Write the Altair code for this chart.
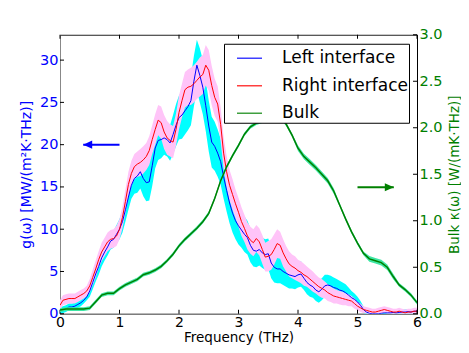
import altair as alt
import pandas as pd
import numpy as np

# ---------------- data ----------------
freq = [round(i * 0.05, 2) for i in range(121)]  # 0 .. 6 THz grid

left_g = [0.4, 0.5, 0.6, 0.8, 0.8, 0.9, 1.1, 1.3, 1.6, 2.0,
          2.7, 3.7, 4.7, 5.6, 6.6, 7.3, 7.9, 8.6, 8.8, 9.4,
          10.0, 10.9, 12.3, 13.8, 15.2, 16.0, 16.3, 16.8, 16.0, 15.5,
          15.6, 17.5, 19.6, 20.5, 20.6, 20.8, 20.6, 20.2, 21.2, 22.3,
          23.2, 23.5, 24.0, 24.5, 25.2, 27.5, 29.4, 28.2, 26.8, 24.6,
          22.2, 20.3, 19.8, 19.0, 18.0, 16.2, 14.6, 13.1, 11.9, 11.0,
          10.4, 9.9, 9.4, 9.0, 8.1, 7.5, 7.4, 7.6, 7.2, 7.0,
          7.1, 6.0, 5.5, 5.3, 5.3, 5.0, 4.8, 4.6, 4.5, 4.4,
          4.6, 4.7, 4.2, 3.7, 3.4, 3.2, 2.8, 2.6, 2.9, 3.3,
          3.4, 3.3, 3.1, 3.0, 2.8, 2.7, 2.5, 2.2, 1.9, 1.7,
          1.4, 1.0, 0.5, 0.2, 0.05, 0.0, 0.0, 0.0, 0.05, 0.1,
          0.1, 0.1, 0.15, 0.1, 0.15, 0.2, 0.2, 0.25, 0.2, 0.3,
          0.3]
left_err = [0.4] * 10 + \
    [0.7, 0.8, 0.9, 1.0, 1.0, 1.0, 1.0, 1.0, 1.0, 1.1,
     1.2, 1.3, 1.4, 1.5, 1.6, 1.8, 2.0, 2.0, 2.1, 2.2,
     2.2, 2.4, 2.4, 2.3, 2.2, 2.0, 2.0, 2.1, 2.3, 2.5,
     2.6, 2.8, 2.8, 2.8, 2.9, 3.0, 3.0, 3.2, 3.2, 3.0,
     3.0, 3.0, 2.9, 2.8, 2.7, 2.6, 2.5, 2.4, 2.3, 2.2,
     2.2, 2.1, 2.1, 2.0, 2.0, 1.9, 1.9, 1.9, 1.8, 1.8,
     1.8, 1.8, 1.8, 1.7, 1.7, 1.6, 1.6, 1.6, 1.5, 1.5,
     1.5, 1.5, 1.4, 1.4, 1.4, 1.3, 1.3, 1.3, 1.3, 1.3,
     1.2, 1.2, 1.2, 1.1, 1.1, 1.0, 1.0, 0.9, 0.8, 0.7,
     0.6, 0.5, 0.4, 0.3, 0.3, 0.3, 0.3, 0.3, 0.3, 0.3] + [0.3] * 11

right_g = [1.0, 1.6, 1.7, 1.8, 1.8, 1.8, 2.0, 2.2, 2.4, 2.7,
           3.3, 4.3, 5.3, 6.4, 7.3, 7.9, 8.5, 8.8, 8.9, 9.2,
           10.0, 11.4, 13.3, 15.3, 16.6, 17.4, 17.7, 17.9, 18.2, 18.6,
           19.3, 20.6, 21.8, 22.9, 22.6, 21.5, 20.8, 20.5, 20.3, 21.8,
           23.8, 25.2, 26.5, 26.8, 26.9, 27.2, 27.6, 28.0, 28.3, 29.4,
           28.8, 27.0, 25.6, 24.8, 22.4, 19.0, 16.8, 15.2, 14.1, 13.0,
           12.0, 10.9, 10.1, 9.2, 8.7, 8.4, 8.9, 8.5, 7.6, 6.7,
           6.8, 7.0, 7.6, 8.3, 8.1, 7.2, 6.5, 5.9, 5.6, 5.4,
           5.1, 4.9, 4.6, 4.4, 4.1, 3.8, 3.5, 3.2, 3.0, 2.8,
           2.5, 2.3, 2.1, 2.0, 1.9, 1.8, 1.7, 1.6, 1.5, 1.2,
           0.9, 0.7, 0.5, 0.4, 0.3, 0.2, 0.2, 0.3, 0.4, 0.5,
           0.4, 0.3, 0.2, 0.2, 0.3, 0.2, 0.1, 0.2, 0.2, 0.3,
           0.3]
right_err = [0.6] * 10 + \
    [0.8, 0.9, 1.0, 1.0, 1.1, 1.1, 1.1, 1.1, 1.1, 1.2,
     1.2, 1.3, 1.4, 1.5, 1.5, 1.5, 1.5, 1.6, 1.6, 1.6,
     1.7, 1.7, 1.8, 1.8, 1.9, 2.0, 2.0, 1.9, 1.9, 1.9,
     2.0, 2.0, 2.1, 2.1, 2.2, 2.2, 2.2, 2.3, 2.3, 2.4,
     2.4, 2.3, 2.2, 2.1, 2.0, 1.9, 1.9, 1.8, 1.8, 1.7,
     1.7, 1.7, 1.6, 1.6, 1.6, 1.6, 1.6, 1.6, 1.7, 1.7,
     1.8, 1.8, 1.8, 1.7, 1.6, 1.6, 1.5, 1.5, 1.4, 1.4,
     1.3, 1.3, 1.3, 1.2, 1.2, 1.2, 1.1, 1.1, 1.1, 1.0,
     1.0, 0.9, 0.9, 0.8, 0.8, 0.8, 0.7, 0.7, 0.6, 0.6,
     0.5, 0.5, 0.4, 0.4, 0.4, 0.4, 0.4, 0.4, 0.4, 0.4] + [0.4] * 11

freq_bulk = [round(i * 0.1, 1) for i in range(61)]
bulk_k = [0.04, 0.05, 0.05, 0.05, 0.05, 0.06, 0.13, 0.20, 0.22, 0.22,
          0.27, 0.31, 0.34, 0.37, 0.42, 0.44, 0.47, 0.51, 0.57, 0.64,
          0.73, 0.80, 0.86, 0.92, 0.99, 1.08, 1.24, 1.43, 1.58, 1.70,
          1.81, 1.93, 2.01, 2.05, 2.07, 2.10, 2.13, 2.12, 2.04, 1.92,
          1.78, 1.69, 1.63, 1.57, 1.50, 1.43, 1.32, 1.17, 1.02, 0.88,
          0.76, 0.65, 0.59, 0.57, 0.55, 0.50, 0.40, 0.31, 0.26, 0.20,
          0.12]
bulk_err = [0.02] * 40 + [0.03] * 7 + [0.02] * 5 + [0.03] * 5 + [0.02] * 4

series_names = ["Left interface", "Right interface", "Bulk"]
series_colors = ["#0000ff", "#ff0000", "#008000"]

x_ticks = [0, 1, 2, 3, 4, 5, 6]
left_ticks = [0, 5, 10, 15, 20, 25, 30]
right_ticks = [0.0, 0.5, 1.0, 1.5, 2.0, 2.5, 3.0]

# arrows: tip x, tail x, y
left_arrow = {"tip": [0.39], "tail": [1.0], "y": [20.0]}
right_arrow = {"tip": [5.61], "tail": [5.0], "y": [1.36]}

# ---------------- build tables ----------------
W, H = 357, 279
FONT = "DejaVu Sans"

fa = np.array(freq)
lg, le = np.array(left_g), np.array(left_err)
rg, re_ = np.array(right_g), np.array(right_err)
iface = pd.DataFrame({
    "f": fa,
    "left": lg, "left_lo": lg - le, "left_hi": lg + le,
    "right": rg, "right_lo": rg - re_, "right_hi": rg + re_,
})
iface["s_left"] = series_names[0]
iface["s_right"] = series_names[1]

bk, be = np.array(bulk_k), np.array(bulk_err)
bulk = pd.DataFrame({"f": freq_bulk, "k": bk, "lo": bk - be, "hi": bk + be})
bulk["s"] = series_names[2]


def xs():
    return alt.Scale(domain=[0, 6], nice=False)


def ls():
    return alt.Scale(domain=[0, 33], nice=False)


def rs():
    return alt.Scale(domain=[0, 3], nice=False)


cs = alt.Scale(domain=series_names, range=series_colors)

legend = alt.Legend(
    title=None, orient="none", legendX=164, legendY=9,
    symbolType="stroke", symbolSize=625, symbolStrokeWidth=1.5,
    symbolOpacity=0.75, labelFontSize=17, labelFont=FONT, labelColor="black",
    labelOffset=19, padding=1, symbolOffset=11, rowPadding=5.5,
    labelExpr="datum.label + '\u00a0\u00a0'",
    strokeColor="black", fillColor="white", cornerRadius=0, labelLimit=300,
)

X_axis = alt.Axis(title="Frequency (THz)", values=x_ticks, format="d",
                  ticks=False, grid=False, labelPadding=2, titlePadding=1,
                  labelFlush=False,
                  domainColor="#888888", labelFontSize=14, titleFontSize=13.5,
                  titleFontWeight="normal", labelColor="black", titleColor="black")

L_axis = alt.Axis(title="g(ω) [MW/(m²K·THz)]", values=left_ticks, format="d",
                  ticks=False, grid=False, labelPadding=2, titlePadding=6,
                  domainColor="#888888", labelColor="#0000ff", titleColor="#0000ff",
                  labelFontSize=14.5, titleFontSize=14, titleFontWeight="normal")

R_axis = alt.Axis(orient="right", title="Bulk κ(ω) [W/(mK·THz)]", values=right_ticks,
                  format=".1f", ticks=False, grid=False, labelPadding=2, titlePadding=5,
                  titleAngle=270, titleBaseline="top", domainColor="black",
                  labelColor="#008000", titleColor="#008000", labelFontSize=14.5,
                  titleFontSize=13.5, titleFontWeight="normal")


def X(field):
    return alt.X(field, scale=xs(), axis=X_axis)


base_i = alt.Chart(iface)

cyan = base_i.mark_area(color="#00ffff", opacity=1, clip=True).encode(
    x=X("f:Q"),
    y=alt.Y("left_lo:Q", scale=ls(), axis=L_axis), y2="left_hi:Q")
pink = base_i.mark_area(color="#ffc4f8", opacity=1, clip=True).encode(
    x=X("f:Q"),
    y=alt.Y("right_lo:Q", scale=ls(), axis=None), y2="right_hi:Q")
blue = base_i.mark_line(strokeWidth=1, clip=True).encode(
    x=X("f:Q"),
    y=alt.Y("left:Q", scale=ls(), axis=None),
    color=alt.Color("s_left:N", scale=cs, legend=legend))
red = base_i.mark_line(strokeWidth=1, clip=True).encode(
    x=X("f:Q"),
    y=alt.Y("right:Q", scale=ls(), axis=None),
    color=alt.Color("s_right:N", scale=cs, legend=legend))

la = pd.DataFrame(left_arrow)
l_shaft = alt.Chart(la).mark_rule(color="#0000ff", strokeWidth=2).encode(
    x=X("tip:Q"), x2="tail:Q",
    y=alt.Y("y:Q", scale=ls(), axis=None))
l_head = alt.Chart(la).mark_point(shape="M0,0L2,-0.9L2,0.9Z", size=81, filled=True,
                                  color="#0000ff", opacity=1, strokeWidth=0).encode(
    x=X("tip:Q"), y=alt.Y("y:Q", scale=ls(), axis=None))

lt = pd.DataFrame({"v": left_ticks})
l_ticks = alt.Chart(lt).mark_rule(color="black", strokeWidth=1).encode(
    y=alt.Y("v:Q", scale=ls(), axis=None), x=alt.value(0), x2=alt.value(4))

xt = pd.DataFrame({"v": x_ticks})
x_ticks_b = alt.Chart(xt).mark_rule(color="black", strokeWidth=1).encode(
    x=X("v:Q"), y=alt.value(H), y2=alt.value(H - 4))
x_ticks_t = alt.Chart(xt).mark_rule(color="black", strokeWidth=1).encode(
    x=X("v:Q"), y=alt.value(0), y2=alt.value(4))

base_b = alt.Chart(bulk)
g_band = base_b.mark_area(color="#3ee6a5", opacity=1, clip=True).encode(
    x=X("f:Q"),
    y=alt.Y("lo:Q", scale=rs(), axis=R_axis), y2="hi:Q")
g_line = base_b.mark_line(strokeWidth=1.5, clip=True).encode(
    x=X("f:Q"),
    y=alt.Y("k:Q", scale=rs(), axis=None),
    color=alt.Color("s:N", scale=cs, legend=legend))

ra = pd.DataFrame(right_arrow)
r_shaft = alt.Chart(ra).mark_rule(color="#008000", strokeWidth=2).encode(
    x=X("tail:Q"), x2="tip:Q",
    y=alt.Y("y:Q", scale=rs(), axis=None))
r_head = alt.Chart(ra).mark_point(shape="M0,0L-2,-0.9L-2,0.9Z", size=81, filled=True,
                                  color="#008000", opacity=1, strokeWidth=0).encode(
    x=X("tip:Q"), y=alt.Y("y:Q", scale=rs(), axis=None))

rt = pd.DataFrame({"v": right_ticks})
r_ticks = alt.Chart(rt).mark_rule(color="black", strokeWidth=1).encode(
    y=alt.Y("v:Q", scale=rs(), axis=None), x=alt.value(W - 4), x2=alt.value(W))

chart = alt.layer(
    cyan, pink, blue, red, l_shaft, l_head, l_ticks, x_ticks_b, x_ticks_t,
    g_band, g_line, r_shaft, r_head, r_ticks,
).resolve_scale(
    y="independent"
).properties(
    width=W, height=H,
    padding={"left": 11, "top": 18.75, "right": 0, "bottom": 0},
).configure(font=FONT).configure_view(stroke="#222222", strokeWidth=1)

chart.save("out.html", embed_options={"renderer": "svg", "actions": False})
